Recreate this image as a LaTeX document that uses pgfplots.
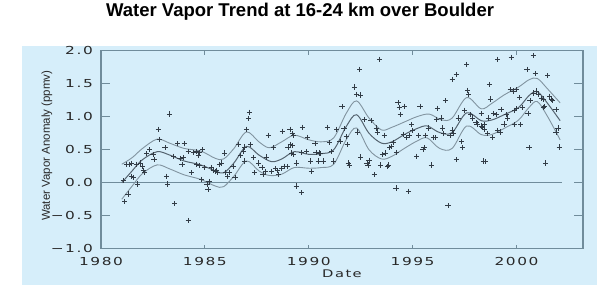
\documentclass[border=0pt]{standalone}
\usepackage{fontspec}
\setmainfont{Liberation Sans}
\newfontfamily\tickfont[FakeStretch=1.4,LetterSpace=14]{DejaVu Sans}
\usepackage{pgfplots}
\usepackage{pgfplotstable}
\pgfplotsset{compat=1.18}
\definecolor{panel}{RGB}{214,238,250}
\definecolor{axcol}{RGB}{112,140,155}
\definecolor{markcol}{RGB}{50,60,70}
\definecolor{fitcol}{RGB}{85,100,112}
\definecolor{bandcol}{RGB}{130,148,160}
\definecolor{txtcol}{RGB}{40,40,40}

\pgfplotstableread{
x y
1981.07 0.03
1981.23 0.28
1981.35 0.28
1981.45 0.29
1981.30 -0.17
1981.15 -0.29
1981.47 0.10
1981.55 0.08
1981.75 -0.02
1981.70 0.28
1981.90 0.30
1982.00 0.24
1982.05 0.19
1982.10 0.16
1982.20 0.44
1982.35 0.50
1982.50 0.43
1982.55 0.35
1982.75 0.81
1982.80 0.66
1983.08 0.53
1983.15 0.10
1983.20 -0.02
1983.30 1.04
1983.50 0.40
1983.55 -0.32
1983.70 0.59
1983.80 0.37
1983.95 0.38
1984.00 0.59
1983.90 0.28
1984.20 -0.57
1984.20 0.47
1984.35 0.15
1984.45 0.46
1984.60 0.47
1984.75 0.46
1984.70 0.41
1984.90 0.50
1984.60 0.28
1984.72 0.26
1985.00 0.23
1984.85 0.05
1985.10 -0.03
1985.15 -0.10
1985.20 0.02
1985.30 0.23
1985.40 0.18
1985.50 0.17
1985.55 0.19
1985.62 0.16
1985.70 0.28
1985.80 0.30
1985.95 0.45
1986.00 0.16
1986.10 0.10
1986.20 0.16
1986.35 0.25
1986.45 0.08
1986.60 0.58
1986.70 0.41
1986.85 0.48
1986.90 0.33
1986.92 0.54
1987.00 0.81
1987.10 0.97
1987.15 1.07
1987.20 0.58
1987.35 0.38
1987.40 0.15
1987.60 0.30
1987.75 0.23
1987.80 0.12
1987.90 0.17
1987.95 0.39
1988.05 0.72
1988.20 0.17
1988.30 0.53
1988.40 0.21
1988.50 0.18
1988.55 0.13
1988.70 0.22
1988.72 0.78
1988.85 0.25
1988.95 0.24
1989.00 0.53
1989.10 0.81
1989.20 0.74
1989.12 0.58
1989.20 0.56
1989.25 0.72
1989.40 -0.05
1989.65 -0.15
1989.17 0.45
1989.25 0.43
1989.40 0.30
1989.65 0.46
1989.70 0.84
1989.95 0.69
1989.90 0.47
1990.10 0.33
1990.12 0.17
1990.30 0.59
1990.35 0.46
1990.45 0.33
1990.50 0.45
1990.58 0.44
1990.70 0.33
1990.90 0.84
1991.00 0.61
1991.10 0.47
1991.20 0.33
1991.35 0.81
1991.50 0.62
1991.60 1.15
1991.70 0.82
1991.80 0.70
1991.85 0.58
1991.90 0.30
1991.95 0.27
1992.20 1.45
1992.30 1.34
1992.35 0.77
1992.45 1.72
1992.48 1.33
1992.50 0.39
1992.70 0.96
1992.80 0.30
1992.85 0.27
1992.90 0.34
1993.00 0.94
1993.15 0.12
1993.25 0.83
1993.30 0.77
1993.40 1.87
1993.45 0.27
1993.55 0.43
1993.65 0.72
1993.70 0.45
1993.80 0.25
1993.85 0.27
1993.90 0.53
1993.98 0.55
1994.05 0.61
1994.20 -0.08
1994.30 1.21
1994.35 1.14
1994.40 1.03
1994.22 0.46
1994.55 0.73
1994.60 1.16
1994.80 -0.13
1994.70 0.68
1994.85 0.72
1994.95 0.88
1995.00 0.79
1995.20 0.40
1995.30 0.71
1995.35 1.16
1995.50 0.50
1995.55 0.53
1995.60 0.72
1995.75 0.83
1995.90 0.27
1996.00 0.68
1996.08 0.68
1996.15 0.96
1996.20 1.13
1996.40 0.98
1996.45 0.83
1996.50 0.74
1996.60 1.24
1996.70 -0.35
1996.80 0.72
1996.90 0.80
1996.98 0.75
1997.10 0.35
1997.20 0.98
1997.35 0.62
1997.40 0.53
1997.50 1.10
1996.90 1.57
1997.10 1.64
1997.60 1.79
1997.65 1.40
1997.70 1.34
1997.80 1.03
1997.88 0.98
1998.05 0.91
1998.10 0.89
1998.30 1.05
1998.40 0.33
1998.45 0.88
1998.70 1.49
1998.75 1.27
1999.10 1.87
1999.75 1.90
2000.80 1.93
2000.50 1.72
2000.90 1.65
2001.50 1.62
1998.65 0.98
1998.90 1.05
1999.05 1.03
1999.25 1.11
1999.50 1.03
1999.58 0.98
1999.40 0.89
1999.10 0.79
1999.20 0.77
1998.85 0.68
1998.60 0.74
1998.35 0.84
1998.45 0.81
1998.30 0.86
1999.70 1.41
1999.85 1.39
2000.00 1.41
1999.90 1.10
2000.00 1.12
2000.15 1.29
2000.30 1.14
2000.20 0.88
1999.90 0.88
2000.55 1.05
2000.60 0.53
2000.65 1.24
2000.80 1.36
2000.95 1.39
2001.05 1.34
2001.20 1.28
2001.30 1.14
2001.35 1.15
2001.30 1.27
2001.40 0.30
2001.60 1.31
2001.68 1.26
2001.75 1.24
2001.90 1.11
2002.00 0.83
2001.90 0.77
2002.05 0.54
1998.50 0.32
}\obsdata

\pgfplotstableread{
x y
1981.0 0.00
1981.5 0.18
1982.0 0.35
1982.7 0.47
1983.3 0.42
1984.0 0.33
1984.8 0.27
1985.5 0.18
1985.9 0.15
1986.4 0.30
1987.0 0.55
1987.6 0.42
1988.2 0.32
1988.7 0.36
1989.3 0.47
1990.0 0.43
1990.6 0.44
1991.2 0.50
1991.8 0.85
1992.3 1.03
1992.9 0.75
1993.5 0.60
1994.0 0.62
1994.6 0.73
1995.2 0.82
1995.7 0.86
1996.3 0.76
1996.9 0.76
1997.6 1.06
1998.3 0.94
1998.8 0.95
1999.4 1.03
2000.1 1.14
2000.6 1.32
2001.0 1.38
2001.5 1.20
2002.1 0.94
}\fitdata

\pgfplotstableread{
x y
1981.0 0.28
1981.5 0.38
1982.0 0.52
1982.7 0.66
1983.3 0.60
1984.0 0.52
1984.8 0.48
1985.5 0.37
1985.9 0.36
1986.4 0.52
1987.0 0.77
1987.6 0.62
1988.1 0.53
1988.7 0.62
1989.3 0.72
1990.0 0.65
1990.6 0.62
1991.2 0.68
1991.8 1.05
1992.3 1.24
1992.9 0.98
1993.5 0.80
1994.0 0.84
1994.6 0.92
1995.2 1.00
1995.8 1.04
1996.4 0.95
1996.9 0.98
1997.6 1.29
1998.3 1.12
1998.8 1.20
1999.4 1.33
2000.1 1.45
2000.6 1.56
2001.0 1.58
2001.5 1.42
2002.1 1.21
}\upband

\pgfplotstableread{
x y
1981.0 -0.25
1981.5 -0.05
1982.0 0.14
1982.7 0.27
1983.3 0.21
1984.0 0.12
1984.8 0.05
1985.5 -0.05
1985.9 -0.06
1986.4 0.10
1987.0 0.33
1987.6 0.18
1988.1 0.11
1988.7 0.13
1989.3 0.23
1990.0 0.22
1990.6 0.23
1991.2 0.28
1991.8 0.65
1992.3 0.83
1992.9 0.50
1993.5 0.36
1994.0 0.40
1994.6 0.52
1995.2 0.63
1995.7 0.68
1996.3 0.52
1996.9 0.52
1997.6 0.86
1998.3 0.73
1998.8 0.73
1999.5 0.84
2000.1 0.95
2000.6 1.14
2001.0 1.23
2001.5 1.00
2002.1 0.65
}\lowband

\begin{document}
\begin{tikzpicture}[x=1pt,y=1pt]
\fill[panel] (22,0) rectangle (597,239);
\path (0,0) rectangle (597,282);
\begin{axis}[
  at={(101pt,36pt)}, anchor=south west,
  scale only axis, width=482pt, height=198pt,
  xmin=1980, xmax=2003.2, ymin=-1, ymax=2,
  xtick={1980,1985,1990,1995,2000},
  xticklabels={1980,1985,1990,1995,2000},
  ytick={-1,-0.5,0,0.5,1,1.5,2},
  yticklabels={−1.0,−0.5,0.0,0.5,1.0,1.5,2.0},
  tick align=inside, tick pos=both,
  axis line style={axcol, line width=1.4pt},
  every tick/.style={axcol, line width=1.1pt},
  xtick style={/pgfplots/major tick length=4pt},
  ytick style={/pgfplots/major tick length=9pt},
  xticklabel style={font=\tickfont\fontsize{11}{13}\selectfont, text=txtcol, anchor=base, yshift=-17pt, inner sep=0pt},
  yticklabel style={font=\tickfont\fontsize{11}{13}\selectfont, text=txtcol, anchor=east, xshift=-8pt, inner sep=0pt},
  xlabel={Date},
  xlabel style={font=\tickfont\fontsize{10.5}{12}\selectfont, text=txtcol, at={(axis description cs:0.5,0)}, anchor=base, yshift=-29pt, inner sep=0pt},
  ylabel={Water Vapor Anomaly (ppmv)},
  ylabel style={font=\fontsize{11.5}{13}\selectfont, text=txtcol, at={(axis description cs:-0.112,0.52)}, anchor=center},
  title={Water Vapor Trend at 16-24 km over Boulder},
  title style={font=\fontsize{18.5}{21}\selectfont\bfseries, text=black, at={(axis description cs:0.413,1)}, anchor=base, yshift=28pt},
]
\addplot[axcol, line width=1.3pt] coordinates {(1980,0) (2002.2,0)};
\addplot[bandcol, line width=0.9pt, smooth, tension=0.55] table {\upband};
\addplot[bandcol, line width=0.9pt, smooth, tension=0.55] table {\lowband};
\addplot[fitcol, line width=1.0pt, smooth, tension=0.55] table {\fitdata};
\addplot[only marks, mark=+, mark size=2.6pt, markcol, mark options={line width=0.8pt}] table {\obsdata};
\end{axis}
\end{tikzpicture}
\end{document}
